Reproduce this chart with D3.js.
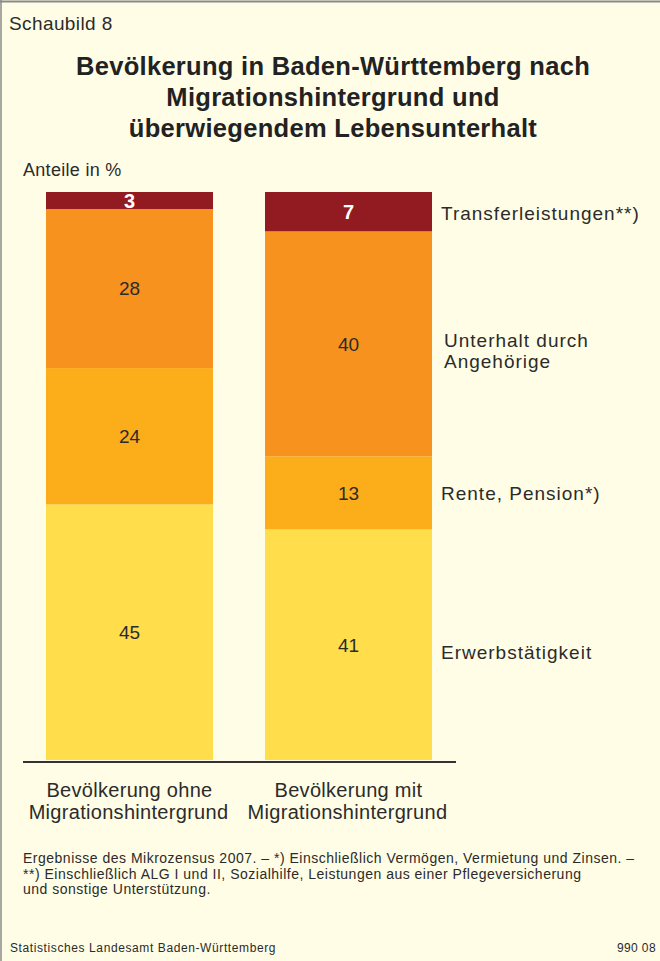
<!DOCTYPE html>
<html lang="de">
<head>
<meta charset="UTF-8">
<title>Schaubild 8</title>
<script src="https://d3js.org/d3.v7.min.js"></script>
<style>
  body { margin: 0; background: #fffde6; }
  text { font-family: "Liberation Sans", Arial, sans-serif; fill: #2b2b2b; }
</style>
</head>
<body>
<svg id="chart" width="660" height="961"></svg>
<script>
    // data
    const groups = ["Bevölkerung ohne\nMigrationshintergrund", "Bevölkerung mit\nMigrationshintergrund"];
    const categories = ["Erwerbstätigkeit", "Rente, Pension*)", "Unterhalt durch\nAngehörige", "Transferleistungen**)"];
    const ohneValues = [45, 24, 28, 3];
    const mitValues = [41, 13, 40, 7];
    const colors = ["#ffdd4b", "#fbad1a", "#f7921e", "#911b21"];

    const svg = d3.select("#chart");
    const W = 660, H = 961;

    svg.append("rect").attr("width", W).attr("height", H).attr("fill", "#fffde6");
    // frame lines
    svg.append("line").attr("x1", 0).attr("x2", W).attr("y1", 1.5).attr("y2", 1.5)
        .attr("stroke", "#8a8a8a").attr("stroke-width", 2);
    svg.append("line").attr("x1", 1).attr("x2", 1).attr("y1", 0).attr("y2", H)
        .attr("stroke", "#8a8a8a").attr("stroke-width", 1.5);

    svg.append("text").attr("x", 9).attr("y", 30).attr("font-size", 19)
        .attr("letter-spacing", 0.4).text("Schaubild 8");

    const titleLines = ["Bevölkerung in Baden-Württemberg nach", "Migrationshintergrund und", "überwiegendem Lebensunterhalt"];
    svg.append("g").selectAll("text").data(titleLines).join("text")
        .attr("x", 333).attr("y", (d, i) => 75 + i * 31)
        .attr("text-anchor", "middle").attr("font-size", 25.5).attr("font-weight", "bold")
        .attr("letter-spacing", 0.3)
        .style("fill", "#222")
        .text(d => d);

    svg.append("text").attr("x", 23).attr("y", 176).attr("font-size", 18)
        .attr("letter-spacing", 0.3).text("Anteile in %");

    // scales
    const x = d3.scaleBand().domain(groups).range([46, 432]).paddingInner(0.2374);
    const barTop = 192, barBottom = 760;

    const series = [ohneValues, mitValues];
    series.forEach((vals, gi) => {
        const total = d3.sum(vals);
        const y = d3.scaleLinear().domain([0, total]).range([barBottom, barTop]);
        let acc = 0;
        const segs = vals.map((v, i) => {
            const s = {v: v, i: i, y0: acc, y1: acc + v};
            acc += v;
            return s;
        });
        const g = svg.append("g");
        g.selectAll("rect").data(segs).join("rect")
            .attr("x", x(groups[gi]))
            .attr("width", x.bandwidth())
            .attr("y", d => y(d.y1))
            .attr("height", d => y(d.y0) - y(d.y1))
            .attr("fill", d => colors[d.i]);
        g.selectAll("text").data(segs).join("text")
            .attr("x", x(groups[gi]) + x.bandwidth() / 2)
            .attr("y", d => (y(d.y0) + y(d.y1)) / 2)
            .attr("dy", "0.36em")
            .attr("text-anchor", "middle")
            .attr("font-size", d => d.i === 3 ? 20 : 19)
            .attr("font-weight", d => d.i === 3 ? "bold" : "normal")
            .style("fill", d => d.i === 3 ? "#fff" : "#2b2b2b")
            .text(d => d.v);

        // right-hand legend next to second bar
        if (gi === 1) {
            const lg = svg.append("g");
            segs.forEach(d => {
                const lines = categories[d.i].split("\n");
                const lx = d.i === 2 ? 444 : 441;
                const cy = (y(d.y0) + y(d.y1)) / 2 + (d.i === 0 ? 7 : 0) + (d.i === 2 ? 7 : 0) + (d.i === 3 ? 1 : 0);
                const t = lg.append("text")
                    .attr("font-size", 19)
                    .attr("letter-spacing", 1)
                    .attr("y", cy - (lines.length - 1) * 10.5);
                lines.forEach((ln, k) => {
                    t.append("tspan").attr("x", lx)
                        .attr("dy", k === 0 ? "0.36em" : "1.1em").text(ln);
                });
            });
        }
    });

    // baseline
    svg.append("line").attr("x1", 23).attr("x2", 456).attr("y1", 762).attr("y2", 762)
        .attr("stroke", "#333").attr("stroke-width", 2);

    // category labels
    groups.forEach(gname => {
        const t = svg.append("text")
            .attr("text-anchor", "middle").attr("font-size", 20)
            .attr("letter-spacing", 0.3)
            .attr("y", 797);
        gname.split("\n").forEach((ln, k) => {
            t.append("tspan").attr("x", x(gname) + x.bandwidth() / 2 + (k === 1 ? -1 : 0))
                .attr("dy", k === 0 ? 0 : 22).text(ln);
        });
    });

    const notes = [
        "Ergebnisse des Mikrozensus 2007. – *) Einschließlich Vermögen, Vermietung und Zinsen. –",
        "**) Einschließlich ALG I und II, Sozialhilfe, Leistungen aus einer Pflegeversicherung",
        "und sonstige Unterstützung."
    ];
    svg.append("g").selectAll("text").data(notes).join("text")
        .attr("x", 23).attr("y", (d, i) => 863 + i * 15.5)
        .attr("font-size", 14).attr("letter-spacing", 0.5).text(d => d);

    svg.append("text").attr("x", 10).attr("y", 952).attr("font-size", 12)
        .attr("letter-spacing", 0.6)
        .text("Statistisches Landesamt Baden-Württemberg");
    svg.append("text").attr("x", 656).attr("y", 952).attr("font-size", 12)
        .attr("letter-spacing", 0.4)
        .attr("text-anchor", "end").text("990 08");
</script>
</body>
</html>
